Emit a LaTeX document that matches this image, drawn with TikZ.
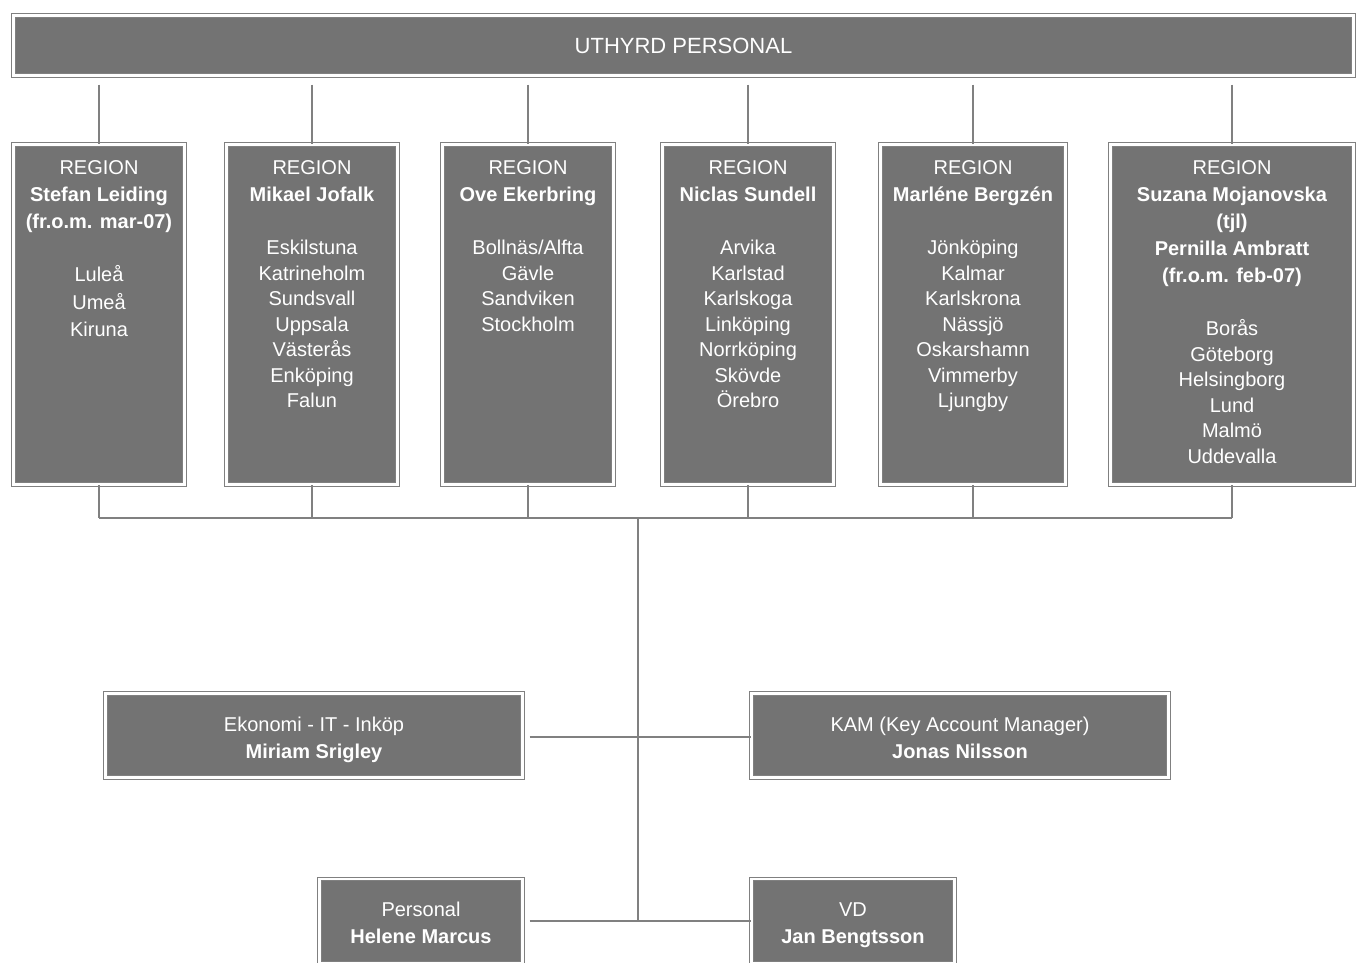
\documentclass[tikz,border=0pt]{standalone}
\usepackage{fontspec}
\setmainfont{Liberation Sans}
\usetikzlibrary{positioning}
\definecolor{boxgray}{RGB}{115,115,115}
\definecolor{linegray}{RGB}{128,128,128}
\newcommand{\topstrut}{\rule{0pt}{26pt}}
\tikzset{unit/.style={draw=linegray, double=white, double distance=2.2pt, line width=1.3pt,
    fill=boxgray, text=white, inner sep=0pt, align=center,
    font=\fontsize{20pt}{25.5pt}\selectfont},
  regbox/.style={unit, minimum height=340pt},
  stabbox/.style={unit, minimum height=84pt},
  regtext/.style={text=white, inner sep=0pt, align=center, anchor=north,
    font=\fontsize{20pt}{25.5pt}\selectfont},
  link/.style={draw=linegray, line width=1.6pt}}

\begin{document}
\begin{tikzpicture}[x=1pt, y=-1pt]
    \useasboundingbox (0,0) rectangle (1357,962);
    \clip (0,0) rectangle (1357,962);
    \node[unit, minimum width=1340pt, minimum height=60pt, font=\fontsize{22pt}{26pt}\selectfont] (top)
        at (683.5,45.5) {UTHYRD PERSONAL};
    % regioner
    \node[regbox, minimum width=171pt] (r1) at (99,314.5) {};
    \node[regbox, minimum width=171pt] (r2) at (312,314.5) {};
    \node[regbox, minimum width=171pt] (r3) at (528,314.5) {};
    \node[regbox, minimum width=171pt] (r4) at (748,314.5) {};
    \node[regbox, minimum width=185pt] (r5) at (973,314.5) {};
    \node[regbox, minimum width=243pt] (r6) at (1232,314.5) {};
    \node[regtext, yshift=-16.6pt] (r1t) at (r1.north) {REGION\\[1.5pt]\textbf{Stefan Leiding}\\[1.5pt]
        \textbf{(fr.o.m. mar-07)}\\[27.5pt]Luleå\\[2pt]Umeå\\[2pt]Kiruna};
    \node[regtext, yshift=-16.6pt] (r2t) at (r2.north) {REGION\\[1.5pt]\textbf{Mikael Jofalk}\\[27.5pt]
        Eskilstuna\\Katrineholm\\Sundsvall\\Uppsala\\Västerås\\Enköping\\Falun};
    \node[regtext, yshift=-16.6pt] (r3t) at (r3.north) {REGION\\[1.5pt]\textbf{Ove Ekerbring}\\[27.5pt]
        Bollnäs/Alfta\\Gävle\\Sandviken\\Stockholm};
    \node[regtext, yshift=-16.6pt] (r4t) at (r4.north) {REGION\\[1.5pt]\textbf{Niclas Sundell}\\[27.5pt]
        Arvika\\Karlstad\\Karlskoga\\Linköping\\Norrköping\\Skövde\\Örebro};
    \node[regtext, yshift=-16.6pt] (r5t) at (r5.north) {REGION\\[1.5pt]\textbf{Marléne Bergzén}\\[27.5pt]
        Jönköping\\Kalmar\\Karlskrona\\Nässjö\\Oskarshamn\\Vimmerby\\Ljungby};
    \node[regtext, yshift=-16.6pt] (r6t) at (r6.north) {REGION\\[1.5pt]\textbf{Suzana Mojanovska}\\[1.5pt]
        \textbf{(tjl)}\\[1.5pt]\textbf{Pernilla Ambratt}\\[1.5pt]\textbf{(fr.o.m. feb-07)}\\[27.5pt]
        Borås\\Göteborg\\Helsingborg\\Lund\\Malmö\\Uddevalla};
    % stab
    \node[stabbox, minimum width=417pt] (eko) at (314,735.5)
        {\topstrut Ekonomi - IT - Inköp\\[1.5pt]\textbf{Miriam Srigley}\strut};
    \node[stabbox, minimum width=417pt] (kam) at (960,735.5)
        {\topstrut KAM (Key Account Manager)\\[1.5pt]\textbf{Jonas Nilsson}\strut};
    \node[stabbox, minimum width=203pt] (pers) at (421,921)
        {\topstrut Personal\\[1.5pt]\textbf{Helene Marcus}\strut};
    \node[stabbox, minimum width=203pt] (vd) at (853,921)
        {\topstrut VD\\[1.5pt]\textbf{Jan Bengtsson}\strut};
    \coordinate (bus) at (638,518);
    \foreach \r in {r1,r2,r3,r4,r5,r6}{
        \draw[link, shorten <=8.4pt] (top.south -| \r.north) -- (\r.north);
        \draw[link] (\r.south) -- (\r.south |- bus);
    }
    \draw[link] (r1.south |- bus) -- (r6.south |- bus);
    \draw[link] (bus) -- (bus |- pers.east);
    \draw[link, shorten <=6.4pt] ([yshift=-1.5pt]eko.east) -- ([yshift=-1.5pt]kam.west);
    \draw[link, shorten <=6.4pt] (pers.east) -- (vd.west);
\end{tikzpicture}
\end{document}
